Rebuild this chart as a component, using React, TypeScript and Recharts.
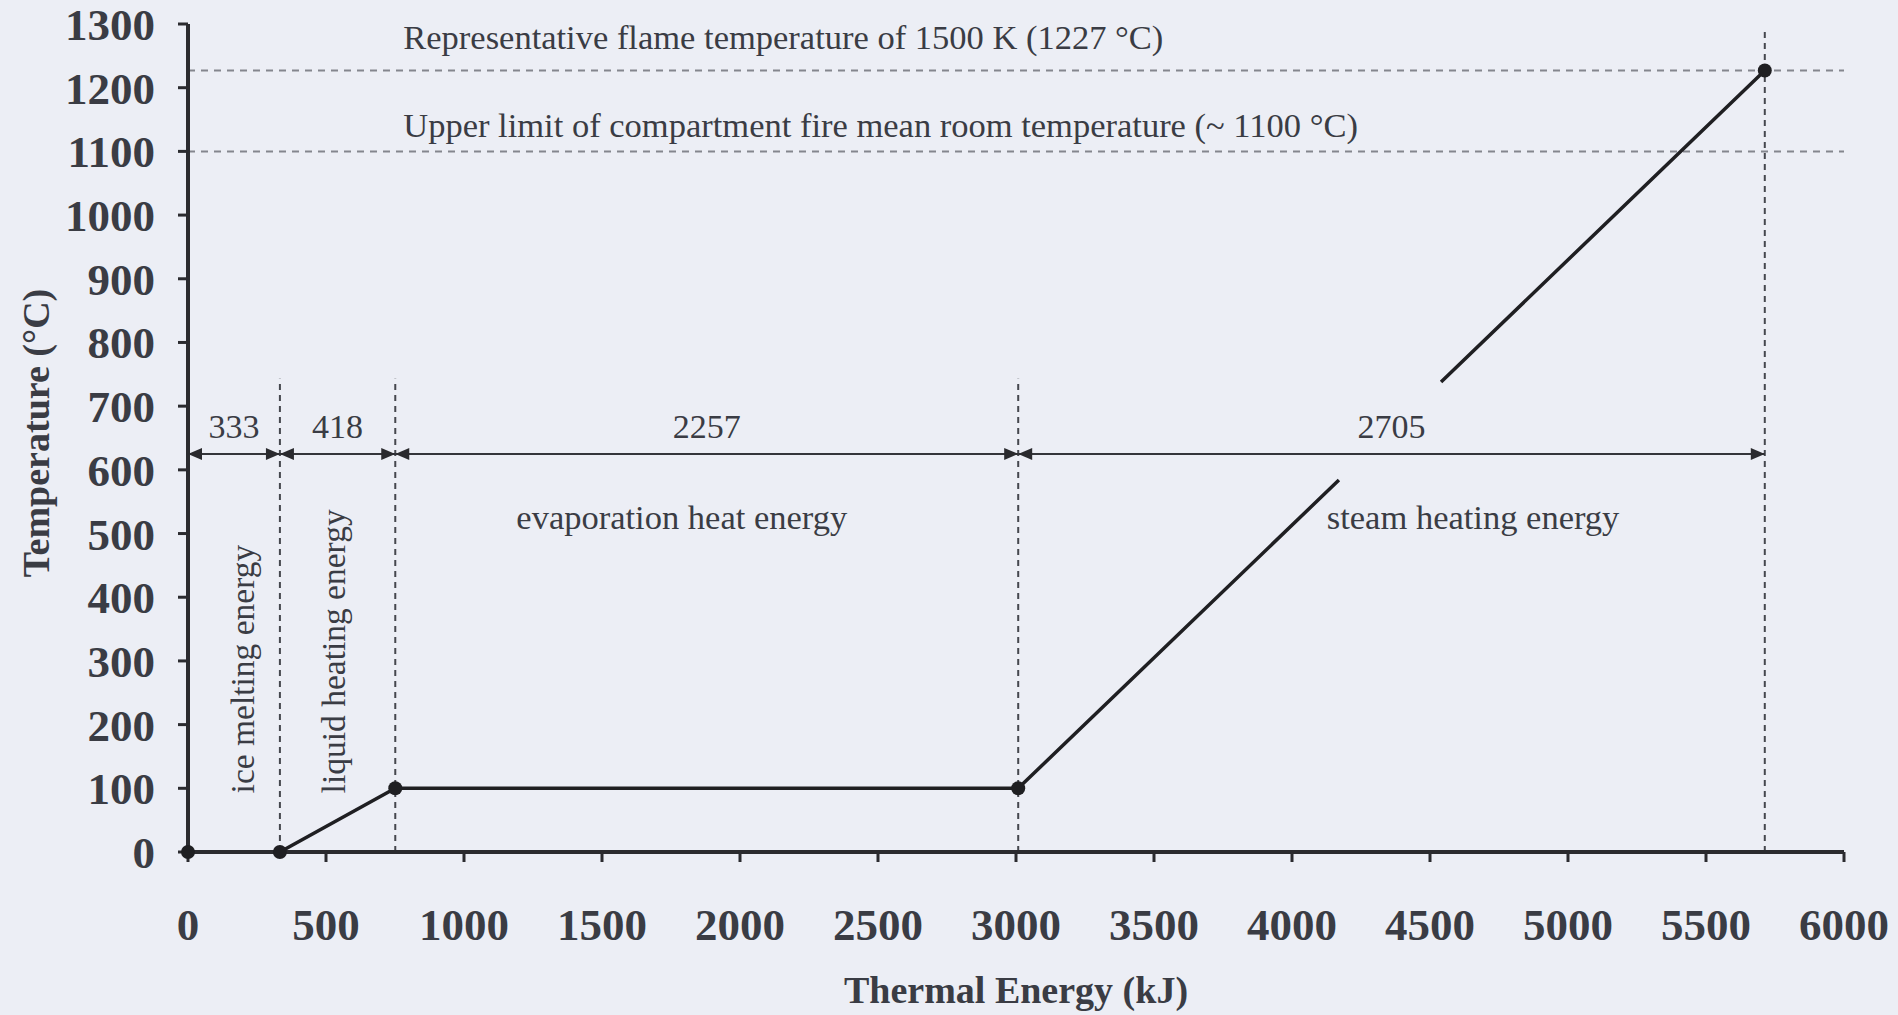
import React from 'react';
import { LineChart, Line, XAxis, YAxis, ReferenceLine, ReferenceDot } from 'recharts';

// heating curve of 1 kg of water (energy in kJ, temperature in °C)
const energyKJ = [0, 333, 751, 3008, 4170, 4355, 4540, 5713];
const temperatureC: (number | null)[] = [0, 0, 100, 100, 584, null, 738, 1227];
const markedPoint = [true, true, true, true, false, false, false, true];

const xTicks = [0, 500, 1000, 1500, 2000, 2500, 3000, 3500, 4000, 4500, 5000, 5500, 6000];
const yTicks = [0, 100, 200, 300, 400, 500, 600, 700, 800, 900, 1000, 1100, 1200, 1300];

// phase boundaries and the energy of each phase
const phaseBounds = [0, 333, 751, 3008, 5713];
const phaseLabels = ['333', '418', '2257', '2705'];
const dividerTops = [743, 743, 743, 1290];
const arrowLevel = 625;
const spanLabelLevel = 668;

const limitTemps = [1227, 1100];
const limitTexts = [
  'Representative flame temperature of 1500 K (1227 °C)',
  'Upper limit of compartment fire mean room temperature (~ 1100 °C)',
];
const limitTextLevels = [1279, 1142];
const limitTextStart = 780;

const phaseNotes = ['evaporation heat energy', 'steam heating energy'];
const phaseNoteX = [1789, 4656];
const phaseNoteLevel = 526;

const sideNotes = ['ice melting energy', 'liquid heating energy'];
const sideNoteX = [199, 529];
const sideNoteBase = 92;

const data = energyKJ.map((e, i) => ({ energy: e, temp: temperatureC[i] }));

const FONT = "'Liberation Serif', 'Times New Roman', serif";
const INK = '#3a3c44';
const LINE = '#1f1f22';

const arrowHead = (dir: number) => (p: any) => {
  const { cx, cy } = p;
  const len = 14;
  const half = 6;
  return (
    <path
      d={`M${cx},${cy} L${cx - dir * len},${cy - half} L${cx - dir * len},${cy + half} Z`}
      fill="#2a2a2e"
    />
  );
};

const textAt = (value: string, anchor: 'start' | 'middle', size = 34.5) => (p: any) => (
  <text
    x={p.cx}
    y={p.cy}
    textAnchor={anchor}
    dominantBaseline="central"
    fontFamily={FONT}
    fontSize={size}
    fill={INK}
  >
    {value}
  </text>
);

const verticalText = (value: string) => (p: any) => (
  <text
    x={p.cx}
    y={p.cy}
    transform={`rotate(-90 ${p.cx} ${p.cy})`}
    textAnchor="start"
    dominantBaseline="central"
    fontFamily={FONT}
    fontSize={33.5}
    fill={INK}
  >
    {value}
  </text>
);

const renderDot = (p: any) =>
  markedPoint[p.index] && p.value != null ? (
    <circle key={p.index} cx={p.cx} cy={p.cy} r={7} fill={LINE} />
  ) : (
    <g key={p.index} />
  );

const YTitle = (p: any) => {
  const vb = p.viewBox;
  const cx = 36;
  const cy = vb.y + vb.height / 2 - 5;
  return (
    <text
      x={cx}
      y={cy}
      transform={`rotate(-90 ${cx} ${cy})`}
      textAnchor="middle"
      dominantBaseline="central"
      fontFamily={FONT}
      fontSize={38}
      fontWeight="bold"
      fill={INK}
    >
      Temperature (°C)
    </text>
  );
};

export default function App() {
  const spans = phaseLabels.map((label, i) => ({ a: phaseBounds[i], b: phaseBounds[i + 1], label }));
  const tickStyle = { fontFamily: FONT, fontSize: 45, fill: INK, fontWeight: 'bold' as const };

  return (
    <div style={{ position: 'absolute', left: 0, top: 0, width: 1898, height: 1015, background: '#eceef5' }}>
      <LineChart width={1898} height={1015} data={data} margin={{ top: 24, right: 54, bottom: 0, left: 0 }}>
        <XAxis
          dataKey="energy"
          type="number"
          domain={[0, 6000]}
          ticks={xTicks}
          height={163}
          tickSize={10}
          tickMargin={46}
          axisLine={{ stroke: '#2b2b2f', strokeWidth: 4 }}
          tickLine={{ stroke: '#2b2b2f', strokeWidth: 3 }}
          tick={tickStyle}
          interval={0}
          label={{
            value: 'Thermal Energy (kJ)',
            position: 'insideBottom',
            offset: 12,
            style: { fontFamily: FONT, fontSize: 38, fontWeight: 'bold', fill: INK },
          }}
        />
        <YAxis
          type="number"
          domain={[0, 1300]}
          ticks={yTicks}
          width={188}
          tickSize={10}
          tickMargin={23}
          axisLine={{ stroke: '#2b2b2f', strokeWidth: 4 }}
          tickLine={{ stroke: '#2b2b2f', strokeWidth: 3 }}
          tick={tickStyle}
          interval={0}
          label={{ content: YTitle }}
        />

        {limitTemps.map((t, i) => (
          <ReferenceLine
            key={`lim${i}`}
            y={t}
            stroke="#84868e"
            strokeWidth={2}
            strokeDasharray="7 6"
          />
        ))}
        {limitTexts.map((txt, i) => (
          <ReferenceDot
            key={`limt${i}`}
            x={limitTextStart}
            y={limitTextLevels[i]}
            shape={textAt(txt, 'start')}
          />
        ))}

        {phaseBounds.slice(1).map((b, i) => (
          <ReferenceLine
            key={`div${i}`}
            segment={[{ x: b, y: 0 }, { x: b, y: dividerTops[i] }]}
            stroke="#45474e"
            strokeWidth={2}
            strokeDasharray="6 5"
          />
        ))}

        {spans.map((s, i) => (
          <ReferenceLine
            key={`arr${i}`}
            segment={[{ x: s.a, y: arrowLevel }, { x: s.b, y: arrowLevel }]}
            stroke="#34353a"
            strokeWidth={2}
          />
        ))}
        {spans.map((s, i) => (
          <ReferenceDot key={`ahl${i}`} x={s.a} y={arrowLevel} shape={arrowHead(-1)} />
        ))}
        {spans.map((s, i) => (
          <ReferenceDot key={`ahr${i}`} x={s.b} y={arrowLevel} shape={arrowHead(1)} />
        ))}
        {spans.map((s, i) => (
          <ReferenceDot
            key={`spl${i}`}
            x={(s.a + s.b) / 2}
            y={spanLabelLevel}
            shape={textAt(s.label, 'middle', 34)}
          />
        ))}

        {phaseNotes.map((txt, i) => (
          <ReferenceDot key={`pn${i}`} x={phaseNoteX[i]} y={phaseNoteLevel} shape={textAt(txt, 'middle')} />
        ))}
        {sideNotes.map((txt, i) => (
          <ReferenceDot key={`sn${i}`} x={sideNoteX[i]} y={sideNoteBase} shape={verticalText(txt)} />
        ))}

        <Line
          type="linear"
          dataKey="temp"
          stroke={LINE}
          strokeWidth={3.5}
          dot={renderDot}
          activeDot={false}
          connectNulls={false}
          isAnimationActive={false}
        />
      </LineChart>
    </div>
  );
}
